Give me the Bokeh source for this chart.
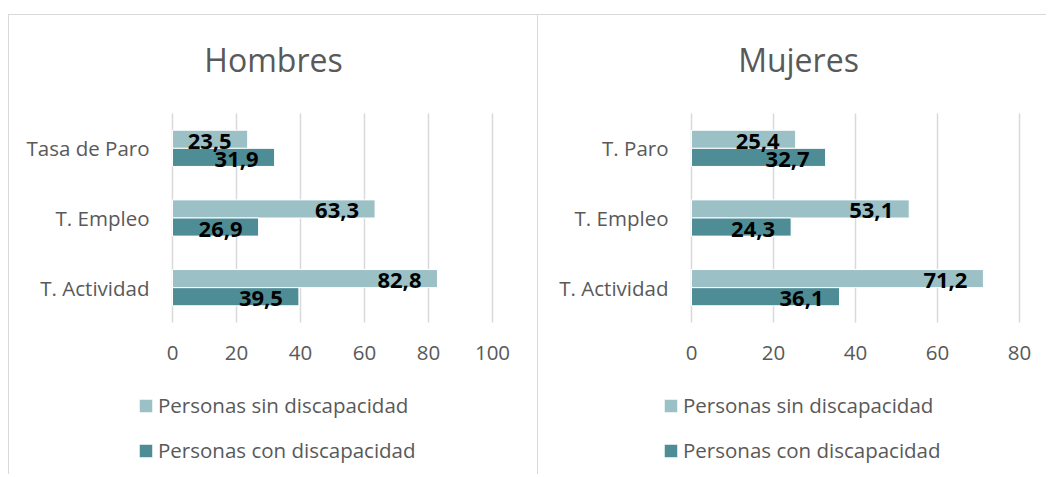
from bokeh.plotting import figure
from bokeh.models import (Range1d, FixedTicker, Label, Legend, LegendItem,
                          ColumnDataSource)
from bokeh.transform import dodge
from bokeh.layouts import row
from bokeh.embed import file_html
from bokeh.resources import INLINE
from bokeh.core.properties import value

# ---------------- data ----------------
categories_h = ["T. Actividad", "T. Empleo", "Tasa de Paro"]   # bottom -> top
categories_m = ["T. Actividad", "T. Empleo", "T. Paro"]
hombres_sin = [82.8, 63.3, 23.5]
hombres_con = [39.5, 26.9, 31.9]
mujeres_sin = [71.2, 53.1, 25.4]
mujeres_con = [36.1, 24.3, 32.7]
series_names = ["Personas sin discapacidad", "Personas con discapacidad"]
titles = ["Hombres", "Mujeres"]
x_max = [100, 80]
tick_step = 20

LIGHT = "#9BC0C6"
DARK = "#4F8D96"
GRID = "#D9D9D9"
TEXT = "#595959"
FONT = "Open Sans"
H = 460            # canvas height (px)
PLOT_TOP = 98      # px from canvas top to top of bar area
PLOT_H = 209       # px height of bar area


def fmt(v):
    return f"{v:.1f}".replace(".", ",")


def make_panel(title, cats, sin, con, xmax, width, px0, frame_w,
               title_cx, legend_x, styles):
    n = len(cats)
    pos = [i + 0.5 for i in range(n)]
    src = ColumnDataSource(dict(pos=pos, sin=sin, con=con,
                                sin_lbl=[fmt(v) for v in sin],
                                con_lbl=[fmt(v) for v in con]))
    # map pixel geometry to data ranges (frame covers the whole canvas)
    xs = frame_w / xmax
    x0 = -px0 / xs
    ys = PLOT_H / n
    y0 = -(H - PLOT_TOP - PLOT_H) / ys
    p = figure(width=width, height=H,
               x_range=Range1d(x0, x0 + width / xs),
               y_range=Range1d(y0, y0 + H / ys),
               output_backend="svg", toolbar_location=None,
               min_border=0, min_border_left=0, min_border_right=0,
               min_border_top=0, min_border_bottom=0)
    p.styles = styles
    p.outline_line_color = None

    r1 = p.hbar(y=dodge("pos", 0.13), right="sin", left=0,
                height=0.26, fill_color=LIGHT, line_color="white",
                line_width=1, source=src)
    r2 = p.hbar(y=dodge("pos", -0.13), right="con", left=0,
                height=0.26, fill_color=DARK, line_color="white",
                line_width=1, source=src)
    for col, lbl, off in (("sin", "sin_lbl", 0.13), ("con", "con_lbl", -0.13)):
        p.text(x=col, y=dodge("pos", off), text=lbl,
               source=src, text_align="right", text_baseline="middle",
               x_offset=-16, y_offset=2, text_font=value(FONT),
               text_font_style="bold", text_font_size="22px",
               text_color="black")

    xticks = list(range(0, xmax + 1, tick_step))
    p.xaxis.ticker = FixedTicker(ticks=xticks)
    p.xaxis.fixed_location = 0
    p.yaxis.ticker = FixedTicker(ticks=pos)
    p.yaxis.major_label_overrides = {pv: c for pv, c in zip(pos, cats)}
    p.yaxis.fixed_location = 0
    p.xgrid.ticker = FixedTicker(ticks=xticks)
    p.xgrid.cross_bounds = (0, n)
    p.xgrid.grid_line_color = GRID
    p.xgrid.grid_line_width = 1.5
    p.ygrid.visible = False
    for ax in (p.xaxis, p.yaxis):
        ax.axis_line_color = None
        ax.major_tick_line_color = None
        ax.minor_tick_line_color = None
        ax.major_tick_out = 0
        ax.major_tick_in = 0
        ax.minor_tick_out = 0
        ax.minor_tick_in = 0
        ax.major_label_text_font = FONT
        ax.major_label_text_font_size = "20.5px"
        ax.major_label_text_color = TEXT
    p.xaxis.major_label_standoff = 23
    p.yaxis.major_label_standoff = 23

    p.add_layout(Label(x=title_cx, y=H - 44, x_units="screen",
                       y_units="screen", text=title, text_align="center",
                       text_baseline="middle", text_font=FONT,
                       text_font_size="32px", text_color=TEXT))

    legend = Legend(items=[LegendItem(label=series_names[0], renderers=[r1]),
                           LegendItem(label=series_names[1], renderers=[r2])],
                    location=(legend_x, 11), orientation="vertical",
                    glyph_width=17, glyph_height=17, label_standoff=4,
                    label_height=27, spacing=17, padding=0, margin=0,
                    border_line_color=None, background_fill_alpha=0,
                    label_text_font=FONT, label_text_font_size="20.5px",
                    label_text_color=TEXT)
    p.add_layout(legend)
    return p


border = "1px solid #D9D9D9"
p1 = make_panel(titles[0], categories_h, hombres_sin, hombres_con, x_max[0],
                530, 163, 320, 264, 128,
                {"border-top": border, "border-left": border,
                 "border-right": border})
p2 = make_panel(titles[1], categories_m, mujeres_sin, mujeres_con, x_max[1],
                508, 153, 328, 260, 124,
                {"border-top": border})

layout = row(p1, p2, margin=(14, 0, 0, 8))
open("out.html", "w").write(file_html(layout, INLINE))
